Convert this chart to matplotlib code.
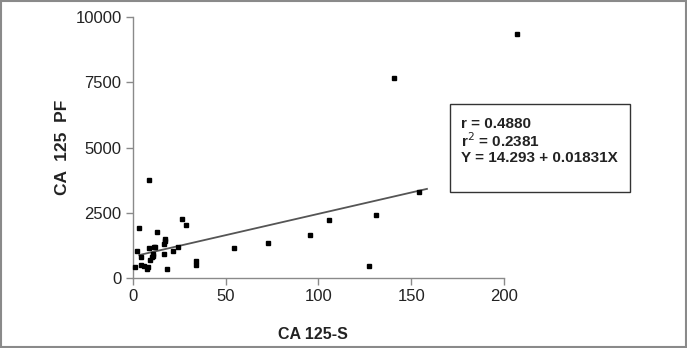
import matplotlib
matplotlib.use("Agg")
import matplotlib.pyplot as plt
from matplotlib.patches import Rectangle

plt.rcParams['font.family'] = ['Liberation Sans', 'DejaVu Sans']

# Data
ca125_s = [8.9, 3.2, 26.4, 28.9, 12.9, 17.5, 17.6, 17.1, 2.5, 8.9, 11.4, 12.0,
           24.6, 21.8, 17.1, 10.7, 10.9, 4.6, 10.3, 9.3, 1.1, 4.3, 6.1, 7.8,
           8.3, 18.5, 34.3, 34.3, 54.3, 73.0, 95.7, 105.6, 131.3, 127.5,
           154.0, 140.6, 207.0]
ca125_pf = [3740, 1900, 2260, 2015, 1775, 1495, 1430, 1315, 1035, 1135, 1175, 1175,
            1175, 1035, 931, 931, 860, 805, 805, 675, 421, 483, 445, 345,
            430, 345, 640, 510, 1134, 1341, 1659, 2222, 2425, 445,
            3307, 7674, 9360]

fit_x = [3.5, 158.5]
fit_y = [880, 3415]

x_ticks = [0, 50, 100, 150, 200]
y_ticks = [0, 2500, 5000, 7500, 10000]
stats_text = ["r = 0.4880", "r$^2$ = 0.2381", "Y = 14.293 + 0.01831X"]

fig = plt.figure(figsize=(6.87, 3.48), dpi=100)
ax = fig.add_axes([0.1932, 0.2011, 0.7336 - 0.1932, 0.9511 - 0.2011])

ax.plot(fit_x, fit_y, color='#555555', lw=1.3, zorder=2)
ax.plot(ca125_s, ca125_pf, linestyle='none', marker='s', ms=3.5,
        color='black', clip_on=False, zorder=3)

ax.set_xlim(0, 200)
ax.set_ylim(0, 10000)
ax.set_xticks(x_ticks)
ax.set_yticks(y_ticks)
ax.set_xticklabels([str(v) for v in x_ticks])
ax.set_yticklabels([str(v) for v in y_ticks])

for s in ['top', 'right']:
    ax.spines[s].set_visible(False)
for s in ['left', 'bottom']:
    ax.spines[s].set_color('#8a8a8a')
    ax.spines[s].set_linewidth(1.0)

ax.tick_params(axis='both', direction='out', length=5, width=1.0,
               color='#8a8a8a', labelsize=12, labelcolor='#222222', pad=3)

ax.set_xlabel("CA 125-S", fontsize=11.5, fontweight='bold', color='#222222')
ax.xaxis.set_label_coords(0.485, -0.215)
ax.xaxis.label.set_va('center')
ax.set_ylabel("CA  125  PF", fontsize=12.5, fontweight='bold', color='#222222')
ax.yaxis.set_label_coords(-0.19, 0.5)
ax.yaxis.label.set_va('center')

# Stats box
box = Rectangle((450 / 687, 1 - 192 / 348), (630 - 450) / 687, (192 - 104) / 348,
                transform=fig.transFigure, fill=True, facecolor='white',
                edgecolor='#333333', lw=1.0, zorder=5)
fig.patches.append(box)
for i, t in enumerate(stats_text):
    fig.text(461 / 687, 1 - (124 + 17 * i) / 348, t, fontsize=11,
             fontweight='bold', color='#222222', va='center', ha='left',
             zorder=6)

# Outer frame
frame = Rectangle((0.001, 0.002), 0.997, 0.995, transform=fig.transFigure,
                  fill=False, edgecolor='#8a8a8a', lw=1.5)
fig.patches.append(frame)

fig.savefig("out.png", dpi=100)
